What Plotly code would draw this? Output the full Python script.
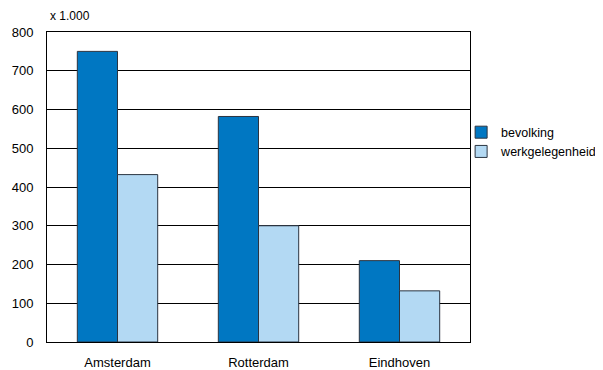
import plotly.graph_objects as go

categories = ["Amsterdam", "Rotterdam", "Eindhoven"]
bevolking = [750, 582, 210]
werkgelegenheid = [432, 300, 132]
y_ticks = [0, 100, 200, 300, 400, 500, 600, 700, 800]

fig = go.Figure()
fig.add_trace(go.Bar(x=categories, y=bevolking, name="bevolking",
                     marker=dict(color="#0077C2", line=dict(color="#2b3440", width=1))))
fig.add_trace(go.Bar(x=categories, y=werkgelegenheid, name="werkgelegenheid",
                     marker=dict(color="#B3D9F3", line=dict(color="#2b3440", width=1))))

fig.update_layout(
    width=595, height=362,
    margin=dict(l=39, r=133, t=24, b=28, autoexpand=False),
    paper_bgcolor="white", plot_bgcolor="white",
    barmode="group", bargap=0.43, bargroupgap=0,
    font=dict(family="Liberation Sans, Arial, sans-serif", size=13, color="black"),
    legend=dict(x=0.979, y=0.724, xanchor="left", yanchor="top",
                font=dict(size=12.5), tracegroupgap=0, itemwidth=30,
                bgcolor="rgba(0,0,0,0)"),
    xaxis=dict(showgrid=False, showline=True, linecolor="black", linewidth=1,
               mirror=True, ticks="", tickfont=dict(size=13), ticklabelstandoff=8),
    yaxis=dict(range=[0, 800], tickvals=y_ticks, showgrid=True, gridcolor="black",
               gridwidth=1, showline=True, linecolor="black", linewidth=1, mirror=True,
               ticks="", zeroline=False, tickfont=dict(size=13), ticklabelstandoff=10),
    annotations=[dict(text="x 1.000", xref="paper", yref="paper", x=0, y=1.0,
                      xshift=1, yshift=16, xanchor="left", yanchor="middle",
                      showarrow=False, font=dict(size=12))],
)
fig.write_html("out.html")
